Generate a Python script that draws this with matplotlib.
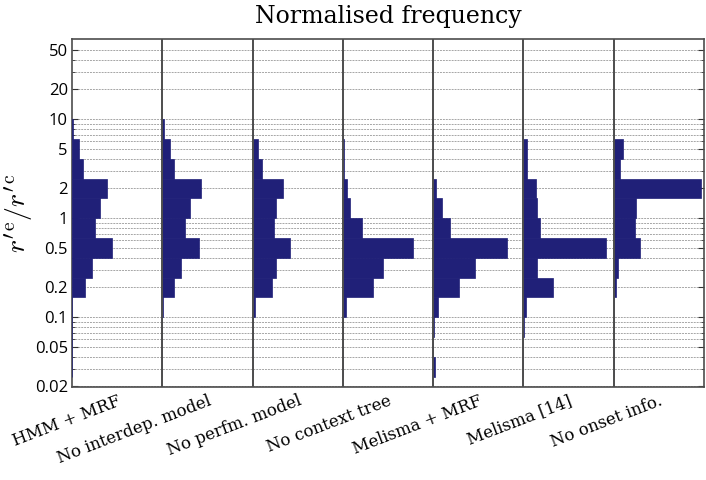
import matplotlib
matplotlib.use("Agg")
import matplotlib.pyplot as plt
from matplotlib.ticker import FixedLocator, NullFormatter

plt.rcParams["mathtext.fontset"] = "cm"

methods = ["HMM + MRF", "No interdep. model", "No perfm. model", "No context tree",
           "Melisma + MRF", "Melisma [14]", "No onset info."]

# log-spaced bin edges (0.2 decade each)
bin_edges = [0.0251, 0.0398, 0.0631, 0.1, 0.1585, 0.2512, 0.3981, 0.6310,
             1.0, 1.585, 2.512, 3.981, 6.310, 10.0]

# normalised frequency per bin, lowest bin first
hmm_mrf      = [0, 0, 0, 0, 0.14, 0.22, 0.44, 0.26, 0.31, 0.39, 0.126, 0.08, 0.01]
no_interdep  = [0, 0, 0, 0.01, 0.126, 0.21, 0.41, 0.25, 0.31, 0.424, 0.134, 0.08, 0.02]
no_perfm     = [0, 0, 0, 0.022, 0.21, 0.26, 0.42, 0.24, 0.26, 0.34, 0.11, 0.06, 0.01]
no_context   = [0, 0, 0, 0.03, 0.33, 0.44, 0.78, 0.215, 0.08, 0.045, 0.01, 0.01, 0]
melisma_mrf  = [0.02, 0, 0.01, 0.052, 0.29, 0.46, 0.82, 0.186, 0.097, 0.037, 0, 0, 0]
melisma_14   = [0, 0, 0.008, 0.03, 0.334, 0.156, 0.914, 0.186, 0.156, 0.14, 0.035, 0.035, 0]
no_onset     = [0, 0, 0, 0, 0.022, 0.045, 0.297, 0.238, 0.253, 0.973, 0.074, 0.104, 0]

series = [hmm_mrf, no_interdep, no_perfm, no_context, melisma_mrf, melisma_14, no_onset]

yticks = [0.02, 0.05, 0.1, 0.2, 0.5, 1, 2, 5, 10, 20, 50]
ytick_labels = ["0.02", "0.05", "0.1", "0.2", "0.5", "1", "2", "5", "10", "20", "50"]
grid_levels = [0.02, 0.03, 0.04, 0.05, 0.06, 0.07, 0.08, 0.09,
               0.1, 0.2, 0.3, 0.4, 0.5, 0.6, 0.7, 0.8, 0.9,
               1, 2, 3, 4, 5, 6, 7, 8, 9,
               10, 20, 30, 40, 50]

fig = plt.figure(figsize=(7.06, 4.8), dpi=100)
ax = fig.add_axes([0.102, 0.194, 0.895, 0.724])

lows = bin_edges[:-1]
heights = [b - a for a, b in zip(bin_edges[:-1], bin_edges[1:])]
for i, vals in enumerate(series):
    ax.barh(lows, vals, height=heights, left=i, align="edge",
            color="#202078", edgecolor="#202078", linewidth=0.5, zorder=3)

ax.set_yscale("log")
ax.set_ylim(0.0198, 64)
ax.set_xlim(0, len(methods))

ax.yaxis.set_major_locator(FixedLocator(yticks))
ax.yaxis.set_minor_locator(FixedLocator([g for g in grid_levels if g not in yticks]))
ax.yaxis.set_minor_formatter(NullFormatter())
ax.set_yticklabels(ytick_labels, fontsize=12, family="Open Sans")
ax.grid(True, which="both", axis="y", color="0.65", linestyle=(0, (2, 1)), linewidth=0.7, zorder=1)
ax.tick_params(axis="y", which="both", direction="in", right=True, left=True, color="0.2")
ax.tick_params(axis="y", which="major", length=4, pad=3)
ax.tick_params(axis="y", which="minor", length=2)

for i in range(1, len(methods)):
    ax.axvline(i, color="0.3", linewidth=1.4, zorder=4)

ax.set_xticks([i + 0.5 for i in range(len(methods))])
ax.set_xticklabels(methods, rotation=21, ha="right", rotation_mode="anchor",
                   fontsize=12, family="DejaVu Serif")
ax.tick_params(axis="x", length=0, pad=4)

for s in ax.spines.values():
    s.set_color("0.3")
    s.set_linewidth(1.2)

ax.set_ylabel(r"$r'^{\mathrm{e}}/r'^{\mathrm{c}}$", fontsize=20, va="center")
ax.yaxis.set_label_coords(-0.083, 0.5)
ax.set_title("Normalised frequency", fontsize=17, family="DejaVu Serif", pad=12)

fig.savefig("out.png", dpi=100)
